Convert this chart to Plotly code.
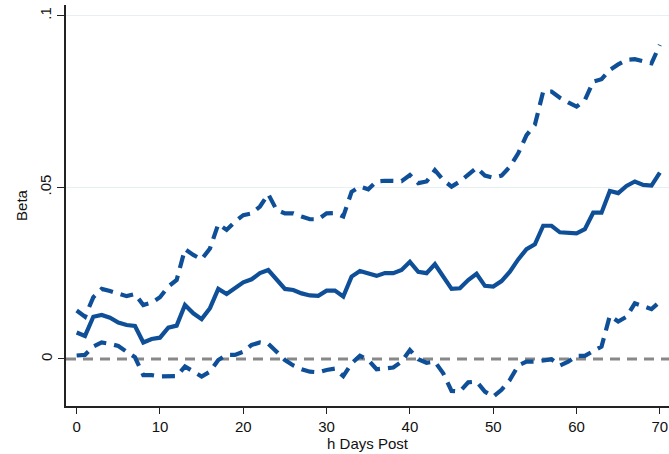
import plotly.graph_objects as go

h = list(range(0, 71))

beta = [7.7, 6.7, 12.3, 12.8, 12.0, 10.6, 9.9, 9.6, 4.8, 5.8,
        6.2, 9.1, 9.7, 15.7, 13.3, 11.6, 14.8, 20.4, 18.9, 20.6,
        22.3, 23.2, 25.0, 25.9, 23.0, 20.4, 20.1, 19.1, 18.5, 18.4,
        19.9, 19.9, 18.2, 24.0, 25.6, 24.8, 24.2, 25.0, 25.0, 25.9,
        28.3, 25.4, 25.0, 27.6, 24.2, 20.4, 20.6, 23.0, 24.8, 21.3,
        21.1, 22.7, 25.4, 29.0, 32.0, 33.4, 38.8, 38.8, 36.9, 36.9,
        36.6, 37.8, 42.6, 42.6, 48.9, 48.3, 50.4, 51.7, 50.7, 50.5,
        54.3]

upper = [14.1, 12.3, 18.0, 20.4, 19.8, 18.9, 18.3, 18.9, 15.7, 16.4,
         18.0, 21.1, 23.0, 32.0, 30.3, 29.0, 32.2, 39.3, 37.6, 40.0,
         41.9, 42.4, 44.4, 48.0, 43.4, 42.4, 42.4, 41.5, 40.7, 40.7,
         42.4, 42.5, 41.5, 48.7, 50.2, 49.4, 51.7, 51.9, 51.8, 51.8,
         53.6, 51.2, 51.7, 55.0, 52.1, 50.2, 51.7, 53.6, 55.7, 53.4,
         52.8, 53.4, 56.0, 59.9, 65.2, 68.2, 77.9, 77.9, 76.1, 74.7,
         73.5, 75.4, 80.8, 81.5, 84.2, 85.8, 87.1, 87.3, 86.6, 86.1,
         91.5]

lower = [1.0, 1.2, 3.6, 4.8, 4.4, 3.8, 2.1, 0.5, -4.7, -4.7,
         -5.1, -5.1, -5.0, -2.2, -3.7, -5.1, -3.7, -0.3, 1.2, 1.2,
         2.1, 4.1, 4.8, 4.4, 2.1, -0.3, -1.9, -3.0, -3.7, -3.9,
         -3.2, -2.8, -5.0, -1.3, 0.9, -0.3, -3.0, -2.9, -2.5, -0.8,
         2.6, -0.1, -1.1, -0.8, -4.2, -9.3, -9.5, -6.8, -6.6, -9.5,
         -11.0, -9.0, -6.1, -1.9, -0.8, -0.8, -0.3, -0.1, -1.9, -0.8,
         0.9, 0.9, 2.3, 3.6, 12.6, 10.9, 12.3, 16.2, 15.4, 14.5,
         16.7]

scale = 1000.0
beta = [v / scale for v in beta]
upper = [v / scale for v in upper]
lower = [v / scale for v in lower]

y_ticks = [0.05, 0.1]
y_tick_labels = [".05", ".1"]
x_ticks = [0, 10, 20, 30, 40, 50, 60, 70]
x_range = [-1.28, 71.1]
y_range = [-0.0137, 0.1031]

color = "#0e4f98"
font = "Liberation Sans, Arial, sans-serif"

fig = go.Figure()
# reference line at zero (drawn under the series, above the grid)
fig.add_trace(go.Scatter(x=x_range, y=[0, 0], mode="lines",
                         line=dict(color="#888888", width=3, dash="10px,7px")))
fig.add_trace(go.Scatter(x=h, y=upper, mode="lines",
                         line=dict(color=color, width=4.2, dash="13px,8px")))
fig.add_trace(go.Scatter(x=h, y=beta, mode="lines",
                         line=dict(color=color, width=4.2)))
fig.add_trace(go.Scatter(x=h, y=lower, mode="lines",
                         line=dict(color=color, width=4.2, dash="13px,8px")))

fig.update_layout(
    width=669, height=454,
    margin=dict(l=66, r=0, t=5, b=48),
    paper_bgcolor="white", plot_bgcolor="white",
    showlegend=False,
    font=dict(family=font, size=15, color="#111111"),
    xaxis=dict(range=x_range, tickvals=x_ticks, ticks="outside", ticklen=6,
               tickcolor="#222222", showline=True, linecolor="#222222", linewidth=1.5,
               showgrid=False, zeroline=False,
               title=dict(text="h Days Post", standoff=2, font=dict(size=15)),
               tickfont=dict(size=15)),
    yaxis=dict(range=y_range, tickvals=y_ticks, ticktext=y_tick_labels,
               tickangle=-90, ticks="outside", ticklen=7, tickcolor="#222222",
               showline=True, linecolor="#222222", linewidth=1.5,
               showgrid=True, gridcolor="#e6eff1", gridwidth=1, zeroline=False,
               title=dict(text="Beta", standoff=6, font=dict(size=15)),
               tickfont=dict(size=15)),
    yaxis2=dict(overlaying="y", range=y_range, tickvals=[0], ticktext=["0"],
                tickangle=-90, ticks="outside", ticklen=7, tickcolor="#222222",
                showgrid=False, zeroline=False, showline=False, side="left",
                tickfont=dict(size=15)),
)
fig.add_trace(go.Scatter(x=[None], y=[None], yaxis="y2", showlegend=False))

fig.write_html("out.html")
